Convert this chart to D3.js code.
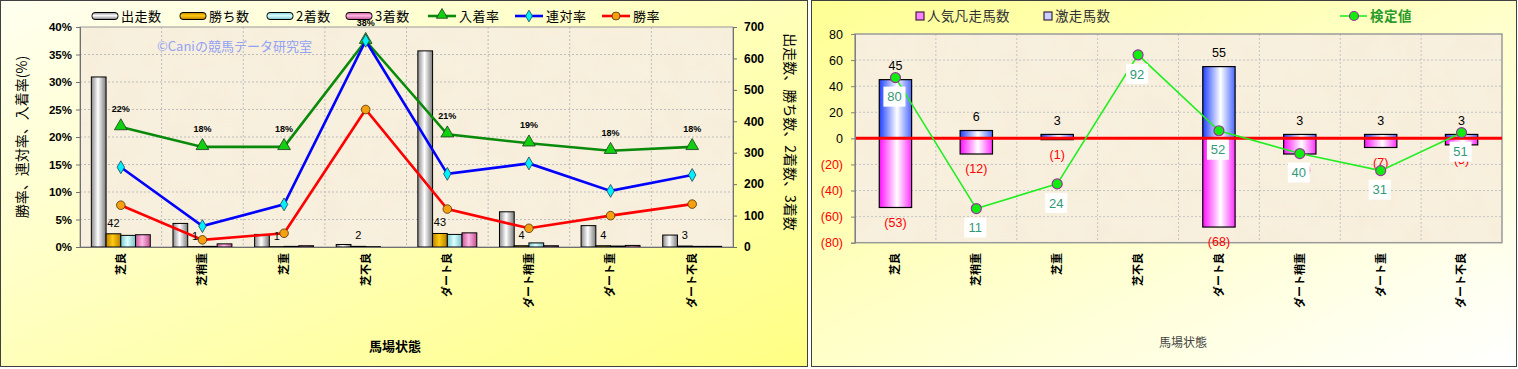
<!DOCTYPE html>
<html><head><meta charset="utf-8">
<script src="https://cdn.jsdelivr.net/npm/d3@7"></script>
<style>body{margin:0;background:#fff;} svg{display:block}</style>
</head><body>
<svg id="c" width="1518" height="369"></svg>
<script>
// ---------- data ----------
const categories = ["芝良","芝稍重","芝重","芝不良","ダート良","ダート稍重","ダート重","ダート不良"];
const runners = [541, 75, 40, 8, 624, 112, 68, 38];
const wins    = [42, 1, 1, 2, 43, 4, 4, 3];
const seconds = [37, 2, 2, 1, 40, 13, 3, 2];
const thirds  = [39, 10, 4, 0, 45, 4, 5, 2];
const placeRate    = [21.8, 18.2, 18.2, 37.5, 20.5, 18.85, 17.5, 18.2];
const placeLabels  = ["22%","18%","18%","38%","21%","19%","18%","18%"];
const quinellaRate = [14.5, 3.8, 7.75, 37.5, 13.3, 15.2, 10.2, 13.1];
const winRate      = [7.6, 1.3, 2.5, 25.0, 6.9, 3.4, 5.7, 7.8];
const rateTicks  = [0, 5, 10, 15, 20, 25, 30, 35, 40];
const countTicks = [0, 100, 200, 300, 400, 500, 600, 700];

const hotCount  = [45, 6, 3, 0, 55, 3, 3, 3];        // 激走馬数
const failCount = [-53, -12, -1, 0, -68, -12, -7, -5]; // 人気凡走馬数
const testValue = [80, 11, 24, 92, 52, 40, 31, 51];  // 検定値
const diffTicks = [-80, -60, -40, -20, 0, 20, 40, 60, 80];

// ---------- setup ----------
const svg = d3.select("#c");
const defs = svg.append("defs");
const JP = "'Noto Sans CJK JP','Noto Sans',sans-serif";
const NUM = "'Liberation Sans',Arial,sans-serif";

function grad(id, stops, vertical, diag) {
  const g = defs.append("linearGradient").attr("id", id)
    .attr("x1", 0).attr("y1", 0)
    .attr("x2", vertical ? 0 : 1).attr("y2", vertical || diag ? 1 : 0);
  stops.forEach(([o, c]) => g.append("stop").attr("offset", o).attr("stop-color", c));
}
const silver = [[0,"#8a8a8a"],[0.45,"#ffffff"],[1,"#7a7a7a"]];
const gold   = [[0,"#c08400"],[0.45,"#ffcc10"],[1,"#b87c00"]];
const cyan   = [[0,"#78c8d0"],[0.45,"#dcffff"],[1,"#78c0c8"]];
const pink   = [[0,"#c85898"],[0.45,"#ffb8e4"],[1,"#c05090"]];
const blue   = [[0,"#2040ff"],[0.55,"#ffffff"],[1,"#4a68ff"]];
const mag    = [[0,"#ff10ff"],[0.55,"#ffffff"],[1,"#ff30ff"]];
[["silver",silver],["gold",gold],["cyan",cyan],["pink",pink],["blue",blue],["mag",mag]].forEach(([n,s]) => {
  grad("g_"+n, s, false); grad("gv_"+n, s, true);
});
grad("panelL", [[0,"#fffff0"],[1,"#ffff84"]], false, true);
grad("panelR", [[0,"#ffff94"],[1,"#ffffff"]], false, true);

// paper texture
const f = defs.append("filter").attr("id","paper").attr("x",0).attr("y",0).attr("width",1).attr("height",1);
f.append("feTurbulence").attr("type","fractalNoise").attr("baseFrequency","0.035").attr("numOctaves",3).attr("seed",4).attr("result","n");
f.append("feColorMatrix").attr("in","n").attr("type","matrix")
  .attr("values","0 0 0 0 0.86  0 0 0 0 0.78  0 0 0 0 0.6  0.9 0 0 0 -0.35").attr("result","c");
f.append("feComposite").attr("in","c").attr("in2","SourceGraphic").attr("operator","in");

// panels
svg.append("rect").attr("x",0.5).attr("y",0.5).attr("width",807).attr("height",366)
  .attr("fill","url(#panelL)").attr("stroke","#404040");
svg.append("rect").attr("x",811.5).attr("y",0.5).attr("width",705).attr("height",366)
  .attr("fill","url(#panelR)").attr("stroke","#404040");

function paper(x, y, w, h) {
  svg.append("rect").attr("x",x).attr("y",y).attr("width",w).attr("height",h).attr("fill","#f8f0de");
  svg.append("rect").attr("x",x).attr("y",y).attr("width",w).attr("height",h).attr("fill","#fff").attr("filter","url(#paper)").attr("opacity",0.55);
}

// =============== LEFT CHART ===============
const L = {l: 80, r: 733, t: 27, b: 247};
const xL = d3.scaleBand().domain(categories).range([L.l, L.r]);
const yRate = d3.scaleLinear().domain([0, 40]).range([L.b, L.t]);
const yCount = d3.scaleLinear().domain([0, 700]).range([L.b, L.t]);
const seriesKeys = ["runners","wins","seconds","thirds"];
const xSub = d3.scaleBand().domain(seriesKeys).range([0, xL.bandwidth()]).paddingInner(0).paddingOuter(0.77);
const cx = c => xL(c) + xL.bandwidth() / 2;

paper(L.l, L.t, L.r - L.l, L.b - L.t);
const gL = svg.append("g");
// grid
gL.selectAll(".hg").data(rateTicks.filter(d => d > 0 && d < 40)).join("line")
  .attr("x1", L.l).attr("x2", L.r).attr("y1", d => yRate(d)).attr("y2", d => yRate(d))
  .attr("stroke","#bdbdbd").attr("stroke-dasharray","2,2");
gL.selectAll(".vg").data(categories.slice(1)).join("line")
  .attr("x1", d => xL(d)).attr("x2", d => xL(d)).attr("y1", L.t).attr("y2", L.b)
  .attr("stroke","#bdbdbd").attr("stroke-dasharray","2,2");
gL.append("rect").attr("x",L.l).attr("y",L.t).attr("width",L.r-L.l).attr("height",L.b-L.t)
  .attr("fill","none").attr("stroke","#9a9a9a");

// watermark
svg.append("text").attr("x",157).attr("y",51).attr("font-family",JP).attr("font-size",13)
  .attr("fill","#93a2f4").text("©Caniの競馬データ研究室");

// bars
const seriesData = {runners, wins, seconds, thirds};
const seriesFill = {runners:"g_silver", wins:"g_gold", seconds:"g_cyan", thirds:"g_pink"};
seriesKeys.forEach(k => {
  gL.selectAll(".b"+k).data(categories).join("rect")
    .attr("x", c => xL(c) + xSub(k)).attr("width", xSub.bandwidth())
    .attr("y", (c,i) => yCount(seriesData[k][i]))
    .attr("height", (c,i) => yCount(0) - yCount(seriesData[k][i]))
    .attr("fill", `url(#${seriesFill[k]})`).attr("stroke","#000").attr("stroke-width",1);
});

// axes
const axL = d3.axisLeft(yRate).tickValues(rateTicks).tickFormat(d => d + "%").tickSize(4).tickPadding(4);
const gAxL = svg.append("g").attr("transform",`translate(${L.l},0)`).call(axL);
gAxL.selectAll("text").attr("font-family",NUM).attr("font-weight","bold").attr("font-size",11.5).attr("fill","#000");
gAxL.selectAll("path,line").attr("stroke","#707070");
const axR = d3.axisRight(yCount).tickValues(countTicks).tickSize(4).tickPadding(7);
const gAxR = svg.append("g").attr("transform",`translate(${L.r},0)`).call(axR);
gAxR.selectAll("text").attr("font-family",NUM).attr("font-weight","bold").attr("font-size",12).attr("fill","#000");
gAxR.selectAll("path,line").attr("stroke","#707070");
svg.append("line").attr("x1",L.l).attr("x2",L.r).attr("y1",L.b+0.5).attr("y2",L.b+0.5).attr("stroke","#707070");

// lines
function drawLine(vals, color) {
  const line = d3.line().x((d,i) => cx(categories[i])).y(d => yRate(d));
  gL.append("path").datum(vals).attr("d", line).attr("fill","none").attr("stroke",color).attr("stroke-width",2.6);
}
drawLine(placeRate, "#0a8a0a");
drawLine(quinellaRate, "#0000ff");
drawLine(winRate, "#ff0000");
gL.selectAll(".tri").data(placeRate).join("path")
  .attr("transform",(d,i) => `translate(${cx(categories[i])},${yRate(d)-1})`)
  .attr("d", d3.symbol(d3.symbolTriangle, 70)).attr("fill","#10d010").attr("stroke","#1a3a1a").attr("stroke-width",0.8);
gL.selectAll(".dia").data(quinellaRate).join("path")
  .attr("transform",(d,i) => `translate(${cx(categories[i])},${yRate(d)})`)
  .attr("d", d3.symbol(d3.symbolDiamond, 48)).attr("fill","#00f0ff").attr("stroke","#204050").attr("stroke-width",0.8);
gL.selectAll(".cir").data(winRate).join("circle")
  .attr("cx",(d,i) => cx(categories[i])).attr("cy", d => yRate(d)).attr("r",4.3)
  .attr("fill","#f4a010").attr("stroke","#503000").attr("stroke-width",0.8);

// labels
gL.selectAll(".pl").data(placeLabels).join("text")
  .attr("x",(d,i) => cx(categories[i])).attr("y",(d,i) => yRate(placeRate[i]) - 15)
  .attr("text-anchor","middle").attr("font-family",NUM).attr("font-weight","bold").attr("font-size",9)
  .attr("fill","#000").text(d => d);
gL.selectAll(".wl").data(wins).join("text")
  .attr("x",(d,i) => xL(categories[i]) + xSub("wins") + xSub.bandwidth()/2)
  .attr("y",(d,i) => yCount(d) - 7)
  .attr("text-anchor","middle").attr("font-family",NUM).attr("font-size",11).attr("fill","#000").text(d => d);

// x labels
svg.selectAll(".xlL").data(categories).join("text")
  .attr("transform", c => `translate(${cx(c)},253) rotate(-90)`)
  .attr("text-anchor","end").attr("dy","0.35em").attr("font-family",JP).attr("font-weight","bold")
  .attr("font-size",11).attr("fill","#000").text(c => c);

// titles
svg.append("text").attr("transform","translate(22,137) rotate(-90)").attr("text-anchor","middle")
  .attr("dy","0.35em").attr("font-family",JP).attr("font-size",14).attr("fill","#000").text("勝率、連対率、入着率(%)");
svg.append("text").attr("transform","translate(790,132) rotate(90)").attr("text-anchor","middle")
  .attr("dy","0.35em").attr("font-family",JP).attr("font-size",14).attr("fill","#000").text("出走数、勝ち数、2着数、3着数");
svg.append("text").attr("x",395).attr("y",351).attr("text-anchor","middle").attr("font-family",JP)
  .attr("font-weight","bold").attr("font-size",13).attr("fill","#000").text("馬場状態");

// legend left
const legY = 16;
const barLeg = [["出走数","gv_silver",92],["勝ち数","gv_gold",180],["2着数","gv_cyan",267],["3着数","gv_pink",346]];
barLeg.forEach(([t, g, x]) => {
  svg.append("rect").attr("x",x).attr("y",legY-3.5).attr("width",26).attr("height",7).attr("rx",3)
    .attr("fill",`url(#${g})`).attr("stroke","#000");
  svg.append("text").attr("x",x+29).attr("y",legY).attr("dy","0.36em").attr("font-family",JP)
    .attr("font-size",13).attr("letter-spacing",0.5).attr("fill","#000").text(t);
});
const lineLeg = [["入着率","#0a8a0a",428,"tri"],["連対率","#0000ff",515,"dia"],["勝率","#ff0000",602,"cir"]];
lineLeg.forEach(([t, col, x, m]) => {
  svg.append("line").attr("x1",x).attr("x2",x+28).attr("y1",legY).attr("y2",legY).attr("stroke",col).attr("stroke-width",2.6);
  if (m === "tri") svg.append("path").attr("transform",`translate(${x+14},${legY-1})`).attr("d",d3.symbol(d3.symbolTriangle,55)).attr("fill","#10d010").attr("stroke","#1a3a1a").attr("stroke-width",0.8);
  if (m === "dia") svg.append("path").attr("transform",`translate(${x+14},${legY})`).attr("d",d3.symbol(d3.symbolDiamond,40)).attr("fill","#00f0ff").attr("stroke","#204050").attr("stroke-width",0.8);
  if (m === "cir") svg.append("circle").attr("cx",x+14).attr("cy",legY).attr("r",4).attr("fill","#f4a010").attr("stroke","#503000").attr("stroke-width",0.8);
  svg.append("text").attr("x",x+31).attr("y",legY).attr("dy","0.36em").attr("font-family",JP)
    .attr("font-size",13).attr("letter-spacing",0.5).attr("fill","#000").text(t);
});

// =============== RIGHT CHART ===============
const R = {l: 855, r: 1502, t: 34, b: 242.7};
const xR = d3.scaleBand().domain(categories).range([R.l, R.r]);
const yR = d3.scaleLinear().domain([-80, 80]).range([R.b, R.t]);
const yT = d3.scaleLinear().domain([-7, 103]).range([R.b, R.t]);
const cxR = c => xR(c) + xR.bandwidth() / 2;
const bwR = xR.bandwidth() * 0.4;

paper(R.l, R.t, R.r - R.l, R.b - R.t);
const gR = svg.append("g");
gR.selectAll(".hg").data(diffTicks.filter(d => d > -80 && d < 80 && d !== 0)).join("line")
  .attr("x1", R.l).attr("x2", R.r).attr("y1", d => yR(d)).attr("y2", d => yR(d))
  .attr("stroke","#c4c4c4").attr("stroke-dasharray","2,2");
gR.selectAll(".vg").data(categories.slice(1)).join("line")
  .attr("x1", d => xR(d)).attr("x2", d => xR(d)).attr("y1", R.t).attr("y2", R.b)
  .attr("stroke","#c4c4c4").attr("stroke-dasharray","2,2");
gR.append("rect").attr("x",R.l).attr("y",R.t).attr("width",R.r-R.l).attr("height",R.b-R.t)
  .attr("fill","none").attr("stroke","#9a9a9a").attr("stroke-width",1.5);

const hotData  = categories.map((c, i) => ({c, v: hotCount[i]})).filter(d => d.v !== 0);
const failData = categories.map((c, i) => ({c, v: failCount[i]})).filter(d => d.v !== 0);

// bars
gR.selectAll(".fb").data(failData).join("rect")
  .attr("x", d => cxR(d.c) - bwR/2).attr("width",bwR)
  .attr("y", yR(0)).attr("height", d => yR(d.v) - yR(0))
  .attr("fill","url(#g_mag)").attr("stroke","#000").attr("stroke-width",1.2);
gR.selectAll(".hb").data(hotData).join("rect")
  .attr("x", d => cxR(d.c) - bwR/2).attr("width",bwR)
  .attr("y", d => yR(d.v)).attr("height", d => yR(0) - yR(d.v))
  .attr("fill","url(#g_blue)").attr("stroke","#000").attr("stroke-width",1.2);

// zero line
gR.append("line").attr("x1",R.l).attr("x2",R.r).attr("y1",yR(0)).attr("y2",yR(0))
  .attr("stroke","#ff0000").attr("stroke-width",3);

// axis
const axR2 = d3.axisLeft(yR).tickValues(diffTicks).tickSize(4).tickPadding(8)
  .tickFormat(d => d < 0 ? `(${-d})` : d);
const gAx2 = svg.append("g").attr("transform",`translate(${R.l},0)`).call(axR2);
gAx2.selectAll("text").attr("font-family",NUM).attr("font-size",12.5)
  .attr("fill", d => d < 0 ? "#ff0000" : "#000");
gAx2.selectAll("path,line").attr("stroke","#808080");

// bar labels
gR.selectAll(".hl").data(hotData).join("text")
  .attr("x", d => cxR(d.c)).attr("y", d => yR(d.v) - 14).attr("dy","0.35em")
  .attr("text-anchor","middle").attr("font-family",NUM).attr("font-size",12.5).attr("fill","#000").text(d => d.v);
gR.selectAll(".fl").data(failData).join("text")
  .attr("x", d => cxR(d.c)).attr("y", d => yR(d.v) + 15).attr("dy","0.35em")
  .attr("text-anchor","middle").attr("font-family",NUM).attr("font-size",12.5).attr("fill","#ff0000").text(d => `(${-d.v})`);

// test line
const tLine = d3.line().x((d,i) => cxR(categories[i])).y(d => yT(d));
gR.append("path").datum(testValue).attr("d", tLine).attr("fill","none").attr("stroke","#22ee22").attr("stroke-width",1.6);
gR.selectAll(".tc").data(testValue).join("circle")
  .attr("cx",(d,i) => cxR(categories[i])).attr("cy", d => yT(d)).attr("r",5)
  .attr("fill","#10ee10").attr("stroke","#993399").attr("stroke-width",1.2);
const tl = gR.selectAll(".tlab").data(testValue).join("g")
  .attr("transform",(d,i) => `translate(${cxR(categories[i]) - 1},${yT(d) + 19})`);
tl.append("rect").attr("x",-11).attr("y",-10).attr("width",22).attr("height",20).attr("fill","#fff");
tl.append("text").attr("text-anchor","middle").attr("dy","0.36em").attr("font-family",NUM)
  .attr("font-size",13).attr("fill","#339977").text(d => d);

// x labels
svg.selectAll(".xlR").data(categories).join("text")
  .attr("transform", c => `translate(${cxR(c)},253) rotate(-90)`)
  .attr("text-anchor","end").attr("dy","0.35em").attr("font-family",JP).attr("font-weight","bold")
  .attr("font-size",11).attr("fill","#000").text(c => c);
svg.append("text").attr("x",1183).attr("y",347).attr("text-anchor","middle").attr("font-family",JP)
  .attr("font-size",12).attr("fill","#444").text("馬場状態");

// legend right
[["人気凡走馬数","#ff80ff",916],["激走馬数","#c8d4ff",1044]].forEach(([t, col, x]) => {
  svg.append("rect").attr("x",x).attr("y",legY-4).attr("width",8).attr("height",8)
    .attr("fill",col).attr("stroke","#402040").attr("stroke-width",1.2);
  svg.append("text").attr("x",x+11).attr("y",legY).attr("dy","0.36em").attr("font-family",JP)
    .attr("font-size",13.5).attr("letter-spacing",0.3).attr("fill","#333").text(t);
});
svg.append("line").attr("x1",1340).attr("x2",1367).attr("y1",legY).attr("y2",legY).attr("stroke","#22ee22").attr("stroke-width",1.6);
svg.append("circle").attr("cx",1354).attr("cy",legY).attr("r",4.5).attr("fill","#10ee10").attr("stroke","#993399").attr("stroke-width",1.2);
svg.append("text").attr("x",1370).attr("y",legY).attr("dy","0.36em").attr("font-family",JP)
  .attr("font-size",13.5).attr("font-weight","bold").attr("letter-spacing",0.5).attr("fill","#2a9a2a").text("検定値");
</script>
</body></html>
